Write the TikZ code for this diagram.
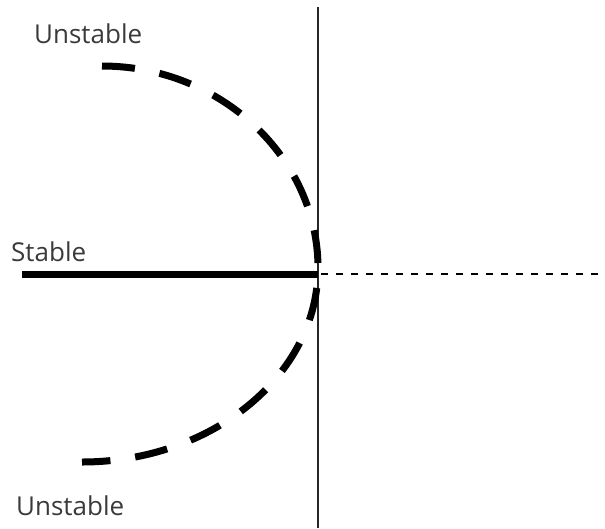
\documentclass[tikz,border=0pt]{standalone}
\usepackage{fontspec}
\setmainfont{Open Sans}
\definecolor{labelgray}{HTML}{3A3A3A}
\begin{document}
\begin{tikzpicture}[x=1pt,y=-1pt,
  lbl/.style={font=\fontsize{26}{30}\selectfont, text=labelgray, inner sep=0pt, anchor=base west},
  axis/.style={line width=2pt, draw=black!85},
  stableline/.style={line width=7pt},
  locus/.style={line width=7pt, dash pattern=on 33pt off 25pt},
  halfaxis/.style={line width=2pt, dash pattern=on 7pt off 8pt}]
\useasboundingbox (0,0) rectangle (605,528);
\coordinate (top) at (318,7);
\coordinate (bot) at (318,528);
\coordinate (origin) at (318,274);
\coordinate (left) at (22,274);
\coordinate (right) at (603,274);
\coordinate (ustart) at (102,66);
\coordinate (touch) at (318,268);
\coordinate (lend) at (82,462);
\draw[axis] (top) -- (bot);
\draw[stableline] (left) -- (origin);
\draw[halfaxis] (origin) ++(3,0) -- (right);
\draw[locus] (ustart) .. controls (221,66) and (318,158) .. (touch)
  .. controls (318,375) and (212,462) .. (lend);
\node[lbl] (u1) at (34,43) {Unstable};
\node[lbl] (s) at (11,261) {Stable};
\node[lbl] (u2) at (16,515) {Unstable};
\end{tikzpicture}
\end{document}
